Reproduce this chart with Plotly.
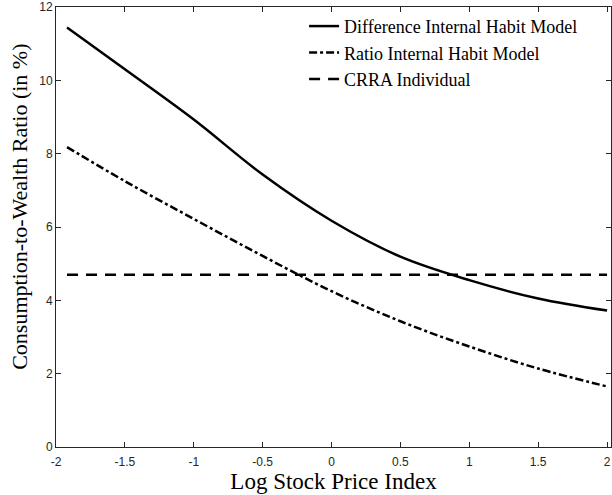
import plotly.graph_objects as go

# Data
x_vals = [-1.92, -1.5, -1.0, -0.5, 0.0, 0.5, 1.0, 1.5, 2.0]
diff_habit = [11.44, 10.3, 8.93, 7.43, 6.17, 5.19, 4.55, 4.05, 3.72]
ratio_habit = [8.18, 7.25, 6.22, 5.21, 4.25, 3.43, 2.74, 2.14, 1.65]
crra_x = [-1.92, 2.0]
crra = [4.7, 4.7]

x_tickvals = [-2, -1.5, -1, -0.5, 0, 0.5, 1, 1.5, 2]
x_ticktext = ["-2", "-1.5", "-1", "-0.5", "0", "0.5", "1", "1.5", "2"]
y_tickvals = [0, 2, 4, 6, 8, 10, 12]
y_ticktext = ["0", "2", "4", "6", "8", "10", "12"]
x_title = "Log Stock Price Index"
y_title = "Consumption-to-Wealth Ratio (in %)"

serif = "Liberation Serif"
sans = "Liberation Sans"
axis_col = "#262626"

fig = go.Figure()
fig.add_trace(go.Scatter(x=x_vals, y=diff_habit, mode="lines", line_shape="spline",
                         name="Difference Internal Habit Model",
                         line=dict(color="black", width=2.5, dash="solid")))
fig.add_trace(go.Scatter(x=x_vals, y=ratio_habit, mode="lines", line_shape="spline",
                         name="Ratio Internal Habit Model",
                         line=dict(color="black", width=2.5, dash="8px,3px,3px,3px")))
fig.add_trace(go.Scatter(x=crra_x, y=crra, mode="lines",
                         name="CRRA Individual",
                         line=dict(color="black", width=2.5, dash="11px,8px")))

fig.add_annotation(text=y_title, xref="paper", yref="paper", x=-0.0647, y=0.546,
                   xanchor="center", yanchor="middle", textangle=-90, showarrow=False,
                   font=dict(family=serif, size=22, color="black"))

fig.update_layout(
    width=612, height=495,
    margin=dict(l=56, r=0, t=4, b=48),
    paper_bgcolor="white", plot_bgcolor="white",
    font=dict(family=serif),
    showlegend=True,
    legend=dict(x=0.447, y=0.998, xanchor="left", yanchor="top",
                bgcolor="rgba(255,255,255,0)", borderwidth=0,
                font=dict(family=serif, size=18, color="black"),
                tracegroupgap=0, itemwidth=30),
    xaxis=dict(range=[-2, 2.0286], tickmode="array", tickvals=x_tickvals, ticktext=x_ticktext,
               ticks="inside", ticklen=5, tickcolor=axis_col, tickwidth=1,
               showline=True, linecolor=axis_col, linewidth=1, mirror="ticks",
               showgrid=False, zeroline=False, ticklabelstandoff=4,
               ticklabeloverflow="allow",
               tickfont=dict(family=sans, size=12, color=axis_col),
               title=dict(text=x_title, standoff=4,
                          font=dict(family=serif, size=23, color="black"))),
    yaxis=dict(range=[0, 12], tickmode="array", tickvals=y_tickvals, ticktext=y_ticktext,
               ticks="inside", ticklen=5, tickcolor=axis_col, tickwidth=1,
               showline=True, linecolor=axis_col, linewidth=1, mirror="ticks",
               showgrid=False, zeroline=False, ticklabeloverflow="allow",
               tickfont=dict(family=sans, size=12, color=axis_col)),
)

fig.write_html("out.html")
